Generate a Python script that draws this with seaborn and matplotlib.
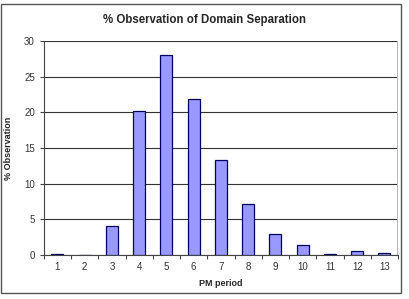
import matplotlib
matplotlib.use("Agg")
import matplotlib.pyplot as plt
import seaborn as sns
import pandas as pd
from matplotlib.patches import Rectangle

# data
periods = ["1", "2", "3", "4", "5", "6", "7", "8", "9", "10", "11", "12", "13"]
observation = [0.1, 0.0, 4.1, 20.2, 28.0, 21.8, 13.3, 7.2, 3.0, 1.35, 0.08, 0.5, 0.35]

df = pd.DataFrame({"period": periods, "obs": observation})

sns.set_style("white")
plt.rcParams["font.family"] = ["Liberation Sans", "DejaVu Sans"]

fig = plt.figure(figsize=(4.10, 2.99), dpi=100)
ax = fig.add_axes([0.107, 0.147, 0.864, 0.716])

sns.barplot(data=df, x="period", y="obs", color="#9999FF", width=0.44,
            edgecolor="#000060", linewidth=0.9, saturation=1, ax=ax, zorder=3)

ax.set_ylim(0, 30)
ax.set_xlim(-0.5, 12.5)
ax.set_yticks([0, 5, 10, 15, 20, 25, 30])
ax.yaxis.grid(True, color="#333333", linewidth=0.8)
ax.set_axisbelow(True)

for side in ["top", "right"]:
    ax.spines[side].set_visible(False)
ax.spines["left"].set_color("#444444")
ax.spines["bottom"].set_color("#444444")
ax.spines["left"].set_linewidth(0.8)
ax.spines["bottom"].set_linewidth(0.8)

# right edge of plot area in light grey
ax.axvline(12.5, color="#BBBBBB", linewidth=1.5)

# ticks between categories on x, outward on y
ax.set_xticks([i - 0.5 for i in range(14)], minor=False)
ax.set_xticklabels([])
ax.set_xticks(range(13), minor=True)
ax.set_xticklabels(periods, minor=True)
ax.tick_params(axis="x", which="major", length=3, direction="out", color="#444444", bottom=True)
ax.tick_params(axis="x", which="minor", length=0, labelsize=7, labelcolor="#333333", pad=5)
ax.tick_params(axis="y", length=3, direction="out", color="#444444", left=True,
               labelsize=7, labelcolor="#333333")

ax.set_xlabel("PM period", fontsize=6.5, fontweight="bold", labelpad=5)
ax.set_ylabel("% Observation", fontsize=6.5, fontweight="bold", labelpad=8)
fig.text(0.5, 0.933, "% Observation of Domain Separation", ha="center", va="center",
         fontsize=8.3, fontweight="bold")

# chart area border
fig.patches.append(Rectangle((0.003, 0.02), 0.975, 0.965, transform=fig.transFigure,
                             fill=False, edgecolor="#555555", linewidth=1.0))

fig.savefig("out.png", dpi=100)
